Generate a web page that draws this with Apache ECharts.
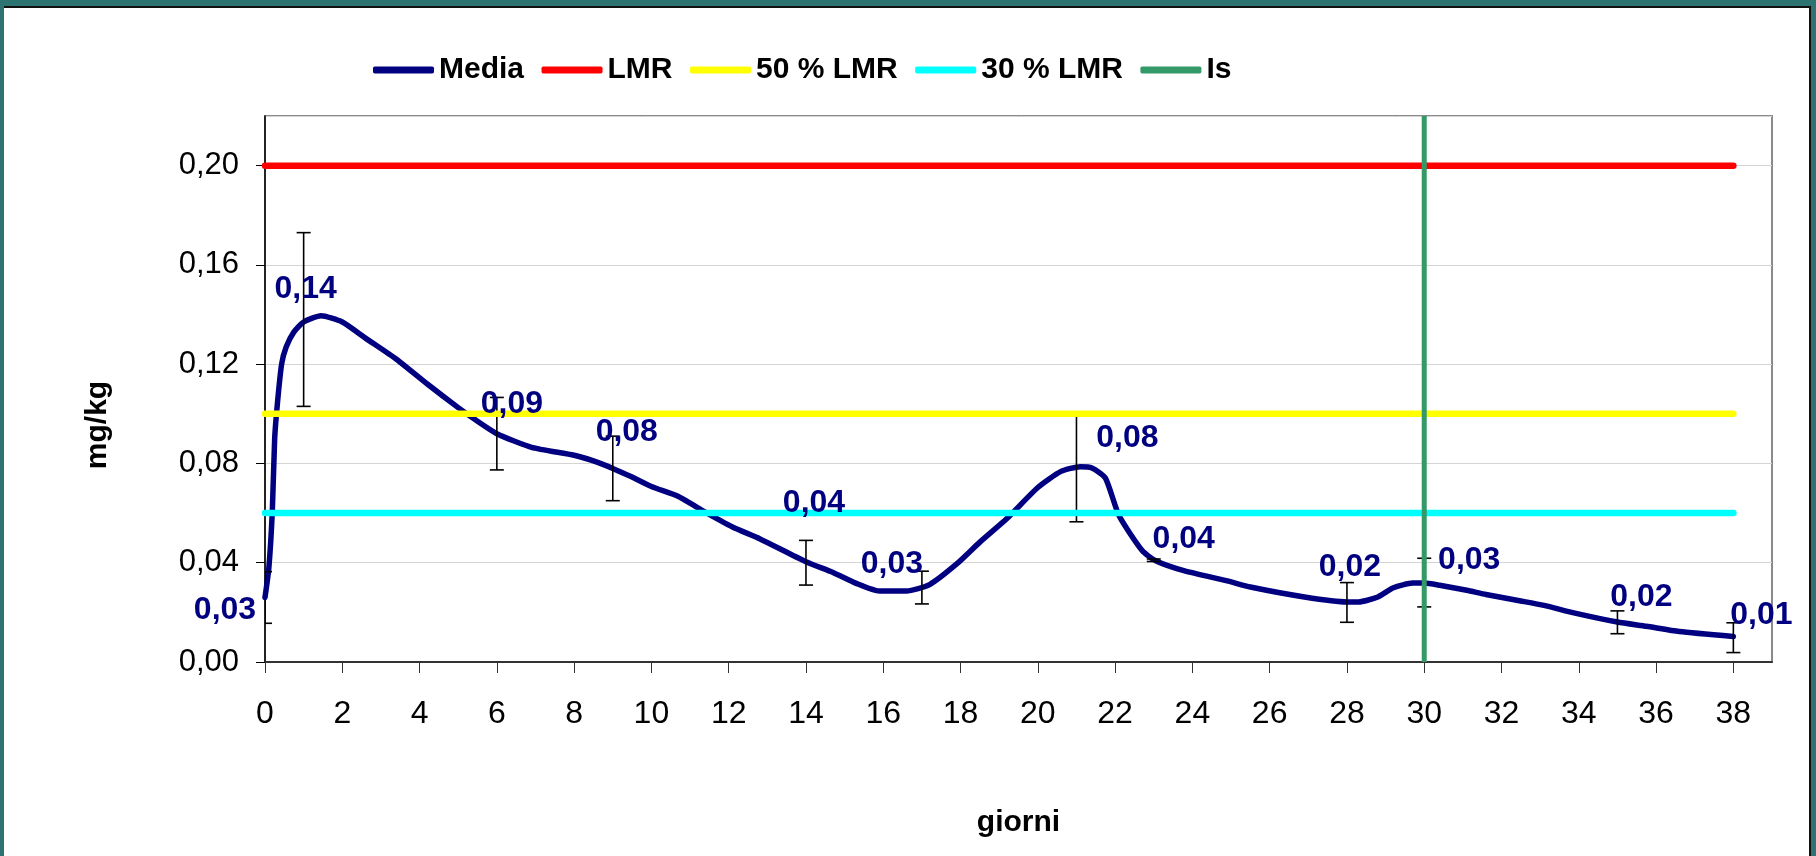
<!DOCTYPE html>
<html>
<head>
<meta charset="utf-8">
<script src="https://cdn.jsdelivr.net/npm/echarts@6/dist/echarts.min.js"></script>
<style>
  html, body { margin: 0; padding: 0; width: 1816px; height: 856px; overflow: hidden; background: #2C7371; }
  #frame { position: absolute; left: 4px; top: 6px; width: 1807px; height: 850px; background: #fff;
           border-top: 2px solid #111; border-right: 2px solid #111; box-sizing: border-box; }
  #chart { position: absolute; left: 0; top: 0; width: 1816px; height: 856px; }
</style>
</head>
<body>
<div id="frame"></div>
<div id="chart"></div>
<script>
// ---- Data ----
// Traced "Media" curve (day, mg/kg)
const mediaCurve = [
  [0, 0.026], [0.1, 0.038], [0.19, 0.061], [0.25, 0.09], [0.32, 0.104], [0.43, 0.12],
  [0.55, 0.127], [0.75, 0.133], [1, 0.137], [1.45, 0.1395], [2, 0.137], [2.6, 0.1305],
  [3.4, 0.122], [4.2, 0.112], [5, 0.1025], [5.5, 0.097], [6, 0.092], [6.9, 0.0865],
  [8, 0.0833], [8.5, 0.081], [9, 0.078], [9.5, 0.0745], [10, 0.0707], [10.7, 0.0667],
  [11.3, 0.0612], [12.1, 0.0544], [12.8, 0.0497], [14, 0.0404], [14.7, 0.0361],
  [15.3, 0.0317], [15.9, 0.0286], [16.6, 0.0286], [17.2, 0.0312], [17.9, 0.0395],
  [18.5, 0.0483], [19.2, 0.0578], [20, 0.0703], [20.6, 0.0768], [21.1, 0.0787],
  [21.4, 0.0782], [21.75, 0.0741], [22.1, 0.059], [22.7, 0.0449], [23.05, 0.0408],
  [23.8, 0.0367], [24.9, 0.0327], [25.5, 0.0302], [26.9, 0.0262], [28, 0.0242],
  [28.3, 0.0242], [28.8, 0.0262], [29.2, 0.0299], [29.7, 0.0318], [30, 0.0318],
  [30.4, 0.0309], [31.1, 0.0289], [31.6, 0.0272], [32.5, 0.0246], [33.1, 0.0228],
  [33.9, 0.0197], [35, 0.0161], [35.75, 0.0144], [36.6, 0.0123], [38, 0.0103]
];
// Measured days with mean and error (±)
const measDays = [0, 1, 6, 9, 14, 17, 21, 23, 28, 30, 35, 38];
const measMean = [0.026, 0.138, 0.092, 0.078, 0.040, 0.030, 0.078, 0.041, 0.024, 0.032, 0.016, 0.0098];
const measErr  = [0.0104, 0.035, 0.0146, 0.013, 0.009, 0.0066, 0.0215, 0.0005, 0.008, 0.0098, 0.0046, 0.006];
// Reference levels
const lmr = 0.20;
const lmr50 = 0.10;
const lmr30 = 0.06;
const isDay = 30;
const refStart = 0, refEnd = 38;
// Axis
const xMin = 0, xMax = 39, xStep = 2;
const yMin = 0, yMax = 0.22, yStep = 0.04;
const legendNames = ['Media', 'LMR', '50 % LMR', '30 % LMR', 'Is'];

// ---- Styles (label placement, not data) ----
const labelOffsets = [[-40, 13], [2, -30], [15, -30], [14, -36], [8, -60], [-30, -23],
                      [51, -30], [30, -21], [3, -35], [45, -22], [24, -25], [28, -23]];
const FONT = "'Liberation Sans', Arial, sans-serif";
const fmt = v => v.toFixed(2).replace('.', ',');

const chart = echarts.init(document.getElementById('chart'), null, { renderer: 'canvas' });

const errData = measDays.map((d, i) => [d, measMean[i] - measErr[i], measMean[i] + measErr[i]]);
const labelData = measDays.map((d, i) => ({
  value: [d, measMean[i]],
  label: { offset: labelOffsets[i] }
}));

const option = {
  animation: false,
  backgroundColor: 'transparent',
  textStyle: { fontFamily: FONT },
  legend: {
    data: legendNames,
    left: 368, top: 50,
    icon: 'roundRect',
    itemWidth: 61, itemHeight: 7, itemGap: 17.5,
    textStyle: { fontFamily: FONT, fontSize: 30, fontWeight: 'bold', color: '#000' }
  },
  grid: { left: 265, top: 116, right: 44, bottom: 194, show: true,
          borderColor: '#8a8a8a', borderWidth: 2, backgroundColor: 'transparent' },
  xAxis: {
    type: 'value', min: xMin, max: xMax, interval: xStep,
    name: 'giorni', nameLocation: 'middle', nameGap: 146,
    nameTextStyle: { fontFamily: FONT, fontSize: 30, fontWeight: 'bold', color: '#000' },
    axisLine: { show: true, lineStyle: { color: '#333', width: 2 } },
    axisTick: { show: true, length: 11, lineStyle: { color: '#333', width: 1 } },
    axisLabel: { fontFamily: FONT, fontSize: 32, color: '#000', margin: 36, showMaxLabel: false },
    splitLine: { show: false }
  },
  yAxis: {
    type: 'value', min: yMin, max: yMax, interval: yStep,
    name: 'mg/kg', nameLocation: 'middle', nameGap: 152, nameRotate: 90,
    nameTextStyle: { fontFamily: FONT, fontSize: 30, fontWeight: 'bold', color: '#000', padding: [0, 72, 0, 0] },
    axisLine: { show: true, lineStyle: { color: '#000', width: 1.5 } },
    axisTick: { show: true, length: 9, lineStyle: { color: '#000', width: 1 } },
    axisLabel: { fontFamily: FONT, fontSize: 31, color: '#000', margin: 26, showMaxLabel: false,
                 formatter: v => fmt(v) },
    splitLine: { show: true, lineStyle: { color: '#d4d4d4', width: 1 } }
  },
  series: [
    {
      name: 'Media', type: 'line', data: mediaCurve, smooth: 0.2,
      showSymbol: false, symbol: 'none', z: 2,
      itemStyle: { color: '#000080' },
      lineStyle: { color: '#000080', width: 5.5, cap: 'round', join: 'round' }
    },
    {
      name: 'LMR', type: 'line', data: [[refStart, lmr], [refEnd, lmr]], showSymbol: false, symbol: 'none', z: 4,
      itemStyle: { color: '#FF0000' }, lineStyle: { color: '#FF0000', width: 6.5, cap: 'round' }
    },
    {
      name: '50 % LMR', type: 'line', data: [[refStart, lmr50], [refEnd, lmr50]], showSymbol: false, symbol: 'none', z: 4,
      itemStyle: { color: '#FFFF00' }, lineStyle: { color: '#FFFF00', width: 6.5, cap: 'round' }
    },
    {
      name: '30 % LMR', type: 'line', data: [[refStart, lmr30], [refEnd, lmr30]], showSymbol: false, symbol: 'none', z: 4,
      itemStyle: { color: '#00FFFF' }, lineStyle: { color: '#00FFFF', width: 6.5, cap: 'round' }
    },
    {
      name: 'Is', type: 'line', data: [[isDay, yMin], [isDay, yMax]], showSymbol: false, symbol: 'none', z: 5,
      itemStyle: { color: '#339966' }, lineStyle: { color: '#339966', width: 5 }
    },
    {
      name: 'err', type: 'custom', data: errData, z: 3, clip: true,
      encode: { x: 0, y: [1, 2] },
      renderItem: function (params, api) {
        const x = api.value(0);
        const pLo = api.coord([x, api.value(1)]);
        const pHi = api.coord([x, api.value(2)]);
        const hw = 7;
        const st = { stroke: '#000', lineWidth: 1.6 };
        return {
          type: 'group',
          children: [
            { type: 'line', shape: { x1: pLo[0], y1: pLo[1], x2: pHi[0], y2: pHi[1] }, style: st },
            { type: 'line', shape: { x1: pHi[0] - hw, y1: pHi[1], x2: pHi[0] + hw, y2: pHi[1] }, style: st },
            { type: 'line', shape: { x1: pLo[0] - hw, y1: pLo[1], x2: pLo[0] + hw, y2: pLo[1] }, style: st }
          ]
        };
      }
    },
    {
      name: 'labels', type: 'scatter', data: labelData, z: 10,
      symbol: 'circle', symbolSize: 1, itemStyle: { color: 'rgba(0,0,0,0)', opacity: 1 },
      label: {
        show: true, position: 'inside', opacity: 1,
        fontFamily: FONT, fontSize: 32, fontWeight: 'bold', color: '#000080',
        formatter: p => fmt(p.value[1])
      }
    }
  ]
};
chart.setOption(option);
</script>
</body>
</html>
